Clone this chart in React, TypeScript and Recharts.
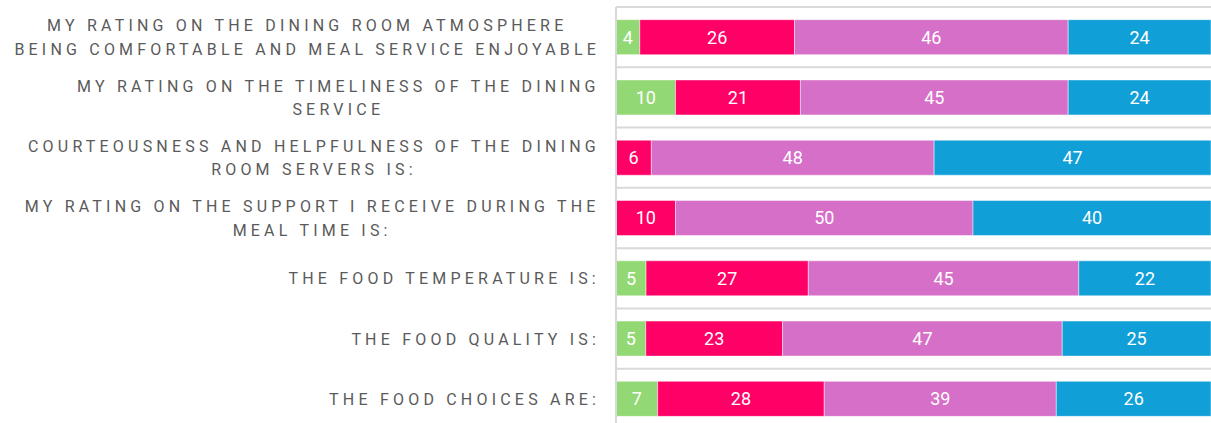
import { BarChart, Bar, XAxis, YAxis, CartesianGrid, LabelList } from "recharts";

const categories = [
  "MY RATING ON THE DINING ROOM ATMOSPHERE\nBEING COMFORTABLE AND MEAL SERVICE ENJOYABLE",
  "MY RATING ON THE TIMELINESS OF THE DINING\nSERVICE",
  "COURTEOUSNESS AND HELPFULNESS OF THE DINING\nROOM SERVERS IS:",
  "MY RATING ON THE SUPPORT I RECEIVE DURING THE\nMEAL TIME IS:",
  "THE FOOD TEMPERATURE IS:",
  "THE FOOD QUALITY IS:",
  "THE FOOD CHOICES ARE:",
];

const greenVals = [4, 10, 0, 0, 5, 5, 7];
const redVals = [26, 21, 6, 10, 27, 23, 28];
const purpleVals = [46, 45, 48, 50, 45, 47, 39];
const blueVals = [24, 24, 47, 40, 22, 25, 26];

const series = [
  { key: "g", values: greenVals, color: "#92D975" },
  { key: "r", values: redVals, color: "#FF0066" },
  { key: "p", values: purpleVals, color: "#D66FC8" },
  { key: "b", values: blueVals, color: "#119FD7" },
];

const data = categories.map((q, i) => {
  const row: any = { q };
  series.forEach((s) => (row[s.key] = s.values[i]));
  return row;
});

const TICK_FONT = 16;
const TICK_SPACING = 4.2;
const LINE_H = 23.5;

const ctx = document.createElement("canvas").getContext("2d") as any;
const measure = (t: string) => {
  ctx.font = `${TICK_FONT}px Roboto`;
  ctx.letterSpacing = `${TICK_SPACING}px`;
  return ctx.measureText(t).width;
};

const CategoryTick = ({ x, y, payload }: any) => {
  const lines: string[] = String(payload.value).split("\n");
  const right = x - 10;
  const w = Math.max(...lines.map(measure));
  const cx = right - w / 2;
  const y0 = y - ((lines.length - 1) * LINE_H) / 2;
  return (
    <text
      textAnchor="middle"
      fill="#5a5a5a"
      fontSize={TICK_FONT}
      fontFamily="Roboto"
      letterSpacing={TICK_SPACING}
      dominantBaseline="central"
    >
      {lines.map((l, i) => (
        <tspan key={i} x={cx + TICK_SPACING / 2} y={y0 + i * LINE_H}>
          {l}
        </tspan>
      ))}
    </text>
  );
};

const hideZero = (v: any) => (v ? v : "");

export default function App() {
  return (
    <div style={{ position: "fixed", top: 0, left: 0, width: 1211, height: 423, overflow: "hidden", background: "#fff" }}>
      <BarChart
        width={1211}
        height={430}
        data={data}
        layout="vertical"
        stackOffset="expand"
        barCategoryGap="21%"
        margin={{ top: 7, right: 0, bottom: 1, left: 0 }}
      >
        <CartesianGrid
          vertical={false}
          stroke="#D9D9D9"
          strokeWidth={2}
          horizontalCoordinatesGenerator={({ offset }: any) =>
            categories.map((_, i) => offset.top + (i * offset.height) / categories.length)
          }
        />
        <XAxis type="number" hide domain={[0, 1]} />
        <YAxis
          type="category"
          dataKey="q"
          width={616}
          tickLine={false}
          axisLine={{ stroke: "#D9D9D9", strokeWidth: 2 }}
          tick={<CategoryTick />}
          interval={0}
        />
        {series.map((s) => (
          <Bar
            key={s.key}
            dataKey={s.key}
            stackId="a"
            fill={s.color}
            stroke="#ffffff"
            strokeOpacity={0.45}
            strokeWidth={1}
            isAnimationActive={false}
          >
            <LabelList
              dataKey={s.key}
              position="center"
              fill="#ffffff"
              fontSize={18}
              fontFamily="Roboto"
              formatter={hideZero}
            />
          </Bar>
        ))}
      </BarChart>
    </div>
  );
}
